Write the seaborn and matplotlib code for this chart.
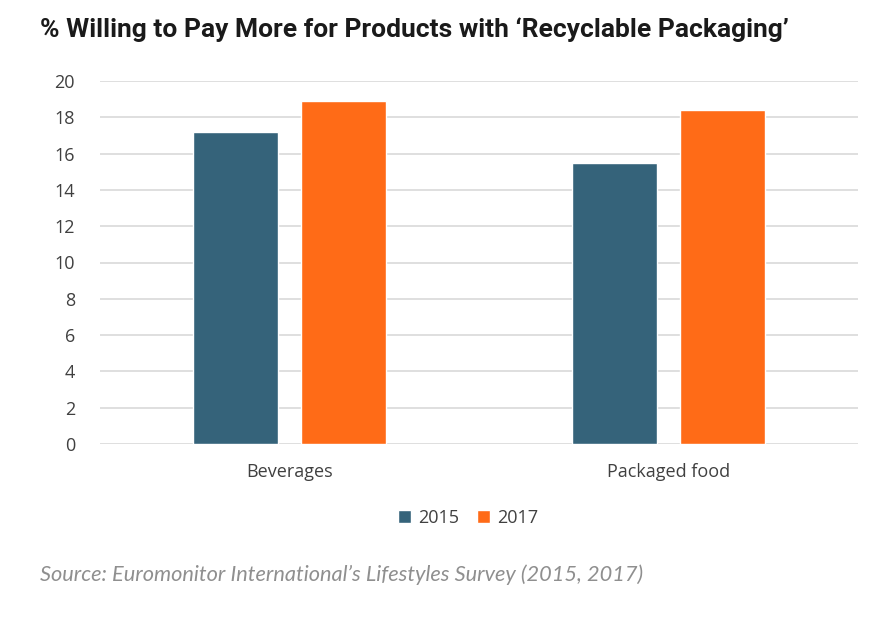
import matplotlib
matplotlib.use("Agg")
import matplotlib.pyplot as plt
import seaborn as sns
import pandas as pd

categories = ["Beverages", "Packaged food"]
years = ["2015", "2017"]
values_2015 = [17.2, 15.5]
values_2017 = [18.9, 18.4]
yticks = [0, 2, 4, 6, 8, 10, 12, 14, 16, 18, 20]

df = pd.DataFrame({
    "category": categories * 2,
    "year": [years[0]] * 2 + [years[1]] * 2,
    "value": values_2015 + values_2017,
})

sns.set_theme(style="white")
plt.rcParams['font.family'] = ['Open Sans', 'DejaVu Sans']

fig = plt.figure(figsize=(8.79, 6.21), dpi=100)
ax = fig.add_axes([100/879, 1 - 444/621, 758/879, (444-81)/621])

palette = {"2015": "#35637a", "2017": "#ff6b17"}
sns.barplot(data=df, x="category", y="value", hue="year", palette=palette,
            width=0.567, gap=0.21, ax=ax, saturation=1, legend=True)

ax.set_xlim(-0.5, 1.5)
ax.set_ylim(0, 20)
ax.set_yticks(yticks)
ax.yaxis.grid(True, color="#d9d9d9", linewidth=1.2)
ax.set_axisbelow(True)
for s in ax.spines.values():
    s.set_visible(False)
ax.set_xlabel("")
ax.set_ylabel("")
ax.tick_params(axis="both", length=0, labelsize=13, labelcolor="#404040")
ax.tick_params(axis="y", pad=18)
ax.tick_params(axis="x", pad=14)

leg = ax.legend(loc="center", bbox_to_anchor=(468/879, 1 - 518/621),
                bbox_transform=fig.transFigure, ncol=2, frameon=False,
                fontsize=13, handlelength=0.7, handleheight=0.7,
                handletextpad=0.4, columnspacing=1.0)
for t in leg.get_texts():
    t.set_color("#404040")

fig.text(40/879, 1 - 30/621, "% Willing to Pay More for Products with \u2018Recyclable Packaging\u2019",
         fontsize=19, fontweight="bold", color="#1a1a1a", va="center", ha="left",
         family=["Roboto", "DejaVu Sans"])
fig.text(40/879, 1 - 575/621, "Source: Euromonitor International\u2019s Lifestyles Survey (2015, 2017)",
         fontsize=15.7, style="italic", color="#8f8f8f",
         va="center", ha="left", family=["Lato", "DejaVu Sans"])

fig.savefig("out.png", dpi=100, facecolor="white")
